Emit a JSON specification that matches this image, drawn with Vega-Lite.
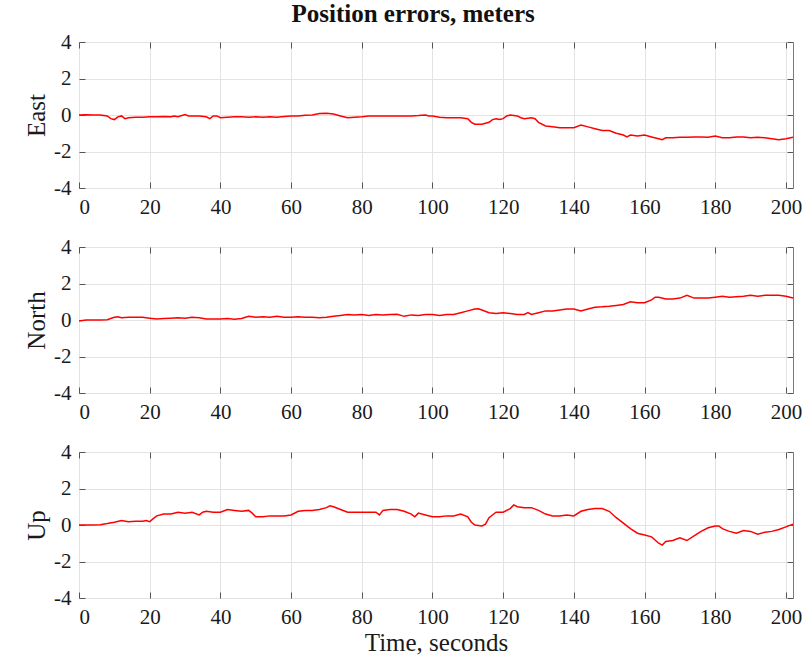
{
"$schema":"https://vega.github.io/schema/vega-lite/v6.json",
"background":"white",
"padding":{"left":24,"top":1,"right":5,"bottom":2},
"title":{"text":"Position errors, meters","font":"Liberation Serif","fontSize":25,"fontWeight":"bold","color":"#111","anchor":"middle","offset":4},
"datasets":{"d":[
{"s":"East","t":0,"v":0},{"s":"East","t":2,"v":0.02},{"s":"East","t":4,"v":0},{"s":"East","t":6,"v":0},{"s":"East","t":8,"v":-0.05},{"s":"East","t":9,"v":-0.2},{"s":"East","t":10,"v":-0.25},{"s":"East","t":11,"v":-0.1},{"s":"East","t":12,"v":-0.05},{"s":"East","t":13,"v":-0.2},{"s":"East","t":14,"v":-0.15},{"s":"East","t":16,"v":-0.12},{"s":"East","t":18,"v":-0.12},{"s":"East","t":20,"v":-0.1},{"s":"East","t":22,"v":-0.1},{"s":"East","t":24,"v":-0.08},{"s":"East","t":26,"v":-0.1},{"s":"East","t":27,"v":-0.05},{"s":"East","t":28,"v":-0.1},{"s":"East","t":30,"v":0.02},{"s":"East","t":31,"v":-0.05},{"s":"East","t":32,"v":-0.05},{"s":"East","t":34,"v":-0.05},{"s":"East","t":36,"v":-0.1},{"s":"East","t":37,"v":-0.2},{"s":"East","t":38,"v":-0.05},{"s":"East","t":39,"v":-0.05},{"s":"East","t":40,"v":-0.15},{"s":"East","t":42,"v":-0.12},{"s":"East","t":44,"v":-0.1},{"s":"East","t":46,"v":-0.1},{"s":"East","t":48,"v":-0.12},{"s":"East","t":50,"v":-0.1},{"s":"East","t":52,"v":-0.12},{"s":"East","t":54,"v":-0.1},{"s":"East","t":56,"v":-0.12},{"s":"East","t":58,"v":-0.08},{"s":"East","t":60,"v":-0.05},{"s":"East","t":62,"v":-0.05},{"s":"East","t":64,"v":-0.02},{"s":"East","t":66,"v":0},{"s":"East","t":68,"v":0.08},{"s":"East","t":70,"v":0.1},{"s":"East","t":72,"v":0.05},{"s":"East","t":74,"v":-0.05},{"s":"East","t":76,"v":-0.15},{"s":"East","t":78,"v":-0.12},{"s":"East","t":80,"v":-0.1},{"s":"East","t":82,"v":-0.05},{"s":"East","t":84,"v":-0.05},{"s":"East","t":86,"v":-0.05},{"s":"East","t":88,"v":-0.05},{"s":"East","t":90,"v":-0.05},{"s":"East","t":92,"v":-0.05},{"s":"East","t":94,"v":-0.05},{"s":"East","t":96,"v":-0.03},{"s":"East","t":98,"v":0},{"s":"East","t":99,"v":-0.05},{"s":"East","t":100,"v":-0.05},{"s":"East","t":102,"v":-0.12},{"s":"East","t":104,"v":-0.15},{"s":"East","t":106,"v":-0.15},{"s":"East","t":108,"v":-0.15},{"s":"East","t":110,"v":-0.2},{"s":"East","t":111,"v":-0.4},{"s":"East","t":112,"v":-0.5},{"s":"East","t":114,"v":-0.5},{"s":"East","t":116,"v":-0.4},{"s":"East","t":117,"v":-0.25},{"s":"East","t":118,"v":-0.2},{"s":"East","t":119,"v":-0.25},{"s":"East","t":120,"v":-0.2},{"s":"East","t":121,"v":-0.05},{"s":"East","t":122,"v":0},{"s":"East","t":124,"v":-0.05},{"s":"East","t":125,"v":-0.15},{"s":"East","t":126,"v":-0.2},{"s":"East","t":128,"v":-0.15},{"s":"East","t":129,"v":-0.2},{"s":"East","t":130,"v":-0.4},{"s":"East","t":132,"v":-0.6},{"s":"East","t":134,"v":-0.65},{"s":"East","t":136,"v":-0.7},{"s":"East","t":138,"v":-0.7},{"s":"East","t":140,"v":-0.7},{"s":"East","t":142,"v":-0.55},{"s":"East","t":144,"v":-0.65},{"s":"East","t":146,"v":-0.75},{"s":"East","t":148,"v":-0.85},{"s":"East","t":150,"v":-0.85},{"s":"East","t":152,"v":-1.0},{"s":"East","t":154,"v":-1.1},{"s":"East","t":155,"v":-1.2},{"s":"East","t":156,"v":-1.1},{"s":"East","t":158,"v":-1.15},{"s":"East","t":160,"v":-1.1},{"s":"East","t":162,"v":-1.2},{"s":"East","t":164,"v":-1.3},{"s":"East","t":165,"v":-1.35},{"s":"East","t":166,"v":-1.25},{"s":"East","t":168,"v":-1.25},{"s":"East","t":170,"v":-1.22},{"s":"East","t":172,"v":-1.22},{"s":"East","t":174,"v":-1.2},{"s":"East","t":176,"v":-1.2},{"s":"East","t":178,"v":-1.22},{"s":"East","t":180,"v":-1.15},{"s":"East","t":182,"v":-1.25},{"s":"East","t":184,"v":-1.25},{"s":"East","t":186,"v":-1.2},{"s":"East","t":188,"v":-1.2},{"s":"East","t":190,"v":-1.25},{"s":"East","t":192,"v":-1.22},{"s":"East","t":194,"v":-1.25},{"s":"East","t":196,"v":-1.3},{"s":"East","t":198,"v":-1.35},{"s":"East","t":200,"v":-1.3},{"s":"East","t":202,"v":-1.22},
{"s":"North","t":0,"v":-0.05},{"s":"North","t":2,"v":0},{"s":"North","t":4,"v":0},{"s":"North","t":6,"v":0},{"s":"North","t":8,"v":0.02},{"s":"North","t":10,"v":0.15},{"s":"North","t":11,"v":0.18},{"s":"North","t":12,"v":0.12},{"s":"North","t":14,"v":0.15},{"s":"North","t":16,"v":0.15},{"s":"North","t":18,"v":0.15},{"s":"North","t":20,"v":0.1},{"s":"North","t":22,"v":0.05},{"s":"North","t":24,"v":0.08},{"s":"North","t":26,"v":0.1},{"s":"North","t":28,"v":0.12},{"s":"North","t":30,"v":0.1},{"s":"North","t":32,"v":0.15},{"s":"North","t":34,"v":0.12},{"s":"North","t":36,"v":0.05},{"s":"North","t":38,"v":0.06},{"s":"North","t":40,"v":0.05},{"s":"North","t":42,"v":0.08},{"s":"North","t":44,"v":0.04},{"s":"North","t":46,"v":0.08},{"s":"North","t":48,"v":0.2},{"s":"North","t":50,"v":0.15},{"s":"North","t":52,"v":0.18},{"s":"North","t":54,"v":0.15},{"s":"North","t":56,"v":0.2},{"s":"North","t":58,"v":0.15},{"s":"North","t":60,"v":0.15},{"s":"North","t":62,"v":0.18},{"s":"North","t":64,"v":0.15},{"s":"North","t":66,"v":0.15},{"s":"North","t":68,"v":0.12},{"s":"North","t":70,"v":0.15},{"s":"North","t":72,"v":0.2},{"s":"North","t":74,"v":0.25},{"s":"North","t":76,"v":0.3},{"s":"North","t":78,"v":0.28},{"s":"North","t":80,"v":0.3},{"s":"North","t":82,"v":0.25},{"s":"North","t":84,"v":0.3},{"s":"North","t":86,"v":0.28},{"s":"North","t":88,"v":0.3},{"s":"North","t":90,"v":0.32},{"s":"North","t":92,"v":0.2},{"s":"North","t":94,"v":0.28},{"s":"North","t":96,"v":0.25},{"s":"North","t":98,"v":0.3},{"s":"North","t":100,"v":0.3},{"s":"North","t":102,"v":0.25},{"s":"North","t":104,"v":0.3},{"s":"North","t":106,"v":0.3},{"s":"North","t":108,"v":0.4},{"s":"North","t":110,"v":0.5},{"s":"North","t":112,"v":0.6},{"s":"North","t":113,"v":0.62},{"s":"North","t":114,"v":0.55},{"s":"North","t":116,"v":0.4},{"s":"North","t":118,"v":0.35},{"s":"North","t":120,"v":0.4},{"s":"North","t":122,"v":0.35},{"s":"North","t":124,"v":0.3},{"s":"North","t":126,"v":0.3},{"s":"North","t":127,"v":0.4},{"s":"North","t":128,"v":0.3},{"s":"North","t":130,"v":0.4},{"s":"North","t":132,"v":0.5},{"s":"North","t":134,"v":0.5},{"s":"North","t":136,"v":0.55},{"s":"North","t":138,"v":0.6},{"s":"North","t":140,"v":0.6},{"s":"North","t":142,"v":0.5},{"s":"North","t":144,"v":0.6},{"s":"North","t":146,"v":0.7},{"s":"North","t":148,"v":0.72},{"s":"North","t":150,"v":0.75},{"s":"North","t":152,"v":0.8},{"s":"North","t":154,"v":0.85},{"s":"North","t":156,"v":1.0},{"s":"North","t":158,"v":0.95},{"s":"North","t":160,"v":0.95},{"s":"North","t":162,"v":1.1},{"s":"North","t":163,"v":1.25},{"s":"North","t":164,"v":1.25},{"s":"North","t":166,"v":1.15},{"s":"North","t":168,"v":1.15},{"s":"North","t":170,"v":1.2},{"s":"North","t":172,"v":1.35},{"s":"North","t":174,"v":1.2},{"s":"North","t":176,"v":1.2},{"s":"North","t":178,"v":1.2},{"s":"North","t":180,"v":1.25},{"s":"North","t":182,"v":1.3},{"s":"North","t":184,"v":1.25},{"s":"North","t":186,"v":1.28},{"s":"North","t":188,"v":1.3},{"s":"North","t":190,"v":1.35},{"s":"North","t":192,"v":1.3},{"s":"North","t":194,"v":1.35},{"s":"North","t":196,"v":1.35},{"s":"North","t":198,"v":1.35},{"s":"North","t":200,"v":1.3},{"s":"North","t":202,"v":1.2},
{"s":"Up","t":0,"v":0},{"s":"Up","t":2,"v":0},{"s":"Up","t":4,"v":0},{"s":"Up","t":6,"v":0.02},{"s":"Up","t":8,"v":0.08},{"s":"Up","t":10,"v":0.15},{"s":"Up","t":12,"v":0.25},{"s":"Up","t":14,"v":0.18},{"s":"Up","t":16,"v":0.2},{"s":"Up","t":18,"v":0.2},{"s":"Up","t":19,"v":0.25},{"s":"Up","t":20,"v":0.18},{"s":"Up","t":21,"v":0.35},{"s":"Up","t":22,"v":0.5},{"s":"Up","t":24,"v":0.6},{"s":"Up","t":26,"v":0.6},{"s":"Up","t":28,"v":0.7},{"s":"Up","t":30,"v":0.65},{"s":"Up","t":32,"v":0.7},{"s":"Up","t":34,"v":0.55},{"s":"Up","t":35,"v":0.7},{"s":"Up","t":36,"v":0.75},{"s":"Up","t":38,"v":0.7},{"s":"Up","t":40,"v":0.7},{"s":"Up","t":42,"v":0.85},{"s":"Up","t":44,"v":0.8},{"s":"Up","t":46,"v":0.75},{"s":"Up","t":48,"v":0.8},{"s":"Up","t":49,"v":0.65},{"s":"Up","t":50,"v":0.45},{"s":"Up","t":52,"v":0.45},{"s":"Up","t":54,"v":0.5},{"s":"Up","t":56,"v":0.5},{"s":"Up","t":58,"v":0.5},{"s":"Up","t":60,"v":0.55},{"s":"Up","t":62,"v":0.75},{"s":"Up","t":64,"v":0.8},{"s":"Up","t":66,"v":0.8},{"s":"Up","t":68,"v":0.85},{"s":"Up","t":70,"v":0.95},{"s":"Up","t":71,"v":1.05},{"s":"Up","t":72,"v":1.0},{"s":"Up","t":74,"v":0.85},{"s":"Up","t":76,"v":0.7},{"s":"Up","t":78,"v":0.7},{"s":"Up","t":80,"v":0.7},{"s":"Up","t":82,"v":0.7},{"s":"Up","t":84,"v":0.7},{"s":"Up","t":85,"v":0.55},{"s":"Up","t":86,"v":0.8},{"s":"Up","t":88,"v":0.85},{"s":"Up","t":90,"v":0.85},{"s":"Up","t":92,"v":0.75},{"s":"Up","t":94,"v":0.6},{"s":"Up","t":95,"v":0.45},{"s":"Up","t":96,"v":0.65},{"s":"Up","t":98,"v":0.55},{"s":"Up","t":100,"v":0.45},{"s":"Up","t":102,"v":0.45},{"s":"Up","t":104,"v":0.5},{"s":"Up","t":106,"v":0.5},{"s":"Up","t":108,"v":0.6},{"s":"Up","t":110,"v":0.45},{"s":"Up","t":111,"v":0.15},{"s":"Up","t":112,"v":0},{"s":"Up","t":114,"v":-0.05},{"s":"Up","t":115,"v":0.05},{"s":"Up","t":116,"v":0.4},{"s":"Up","t":118,"v":0.7},{"s":"Up","t":120,"v":0.7},{"s":"Up","t":122,"v":0.9},{"s":"Up","t":123,"v":1.1},{"s":"Up","t":124,"v":1.0},{"s":"Up","t":126,"v":0.95},{"s":"Up","t":128,"v":0.95},{"s":"Up","t":130,"v":0.8},{"s":"Up","t":132,"v":0.6},{"s":"Up","t":134,"v":0.5},{"s":"Up","t":136,"v":0.5},{"s":"Up","t":138,"v":0.55},{"s":"Up","t":140,"v":0.5},{"s":"Up","t":142,"v":0.75},{"s":"Up","t":144,"v":0.85},{"s":"Up","t":146,"v":0.9},{"s":"Up","t":148,"v":0.9},{"s":"Up","t":150,"v":0.75},{"s":"Up","t":152,"v":0.4},{"s":"Up","t":154,"v":0.1},{"s":"Up","t":156,"v":-0.2},{"s":"Up","t":158,"v":-0.45},{"s":"Up","t":160,"v":-0.55},{"s":"Up","t":162,"v":-0.65},{"s":"Up","t":164,"v":-1.0},{"s":"Up","t":165,"v":-1.1},{"s":"Up","t":166,"v":-0.9},{"s":"Up","t":168,"v":-0.85},{"s":"Up","t":170,"v":-0.7},{"s":"Up","t":172,"v":-0.85},{"s":"Up","t":174,"v":-0.6},{"s":"Up","t":176,"v":-0.35},{"s":"Up","t":178,"v":-0.15},{"s":"Up","t":180,"v":-0.05},{"s":"Up","t":181,"v":-0.05},{"s":"Up","t":182,"v":-0.2},{"s":"Up","t":184,"v":-0.35},{"s":"Up","t":186,"v":-0.45},{"s":"Up","t":188,"v":-0.3},{"s":"Up","t":190,"v":-0.35},{"s":"Up","t":192,"v":-0.5},{"s":"Up","t":194,"v":-0.4},{"s":"Up","t":196,"v":-0.35},{"s":"Up","t":198,"v":-0.25},{"s":"Up","t":200,"v":-0.1},{"s":"Up","t":202,"v":0.05}
]},
"data":{"name":"d"},
"spacing":59,
"bounds":"flush",
"vconcat":[
{"width":714,"height":146,"transform":[{"filter":"datum.s==='East'"}],
 "layer":[
  {"mark":{"type":"line","color":"#ff0000","strokeWidth":1.5},
   "encoding":{"x":{"field":"t","type":"quantitative","scale":{"domain":[0,202],"nice":false},"axis":{"title":null,"values":[0,20,40,60,80,100,120,140,160,180,200]}},
   "y":{"field":"v","type":"quantitative","scale":{"domain":[-4,4],"nice":false},"axis":{"title":"East","values":[-4,-2,0,2,4]}}}},
  {"mark":{"type":"line","opacity":0},
   "encoding":{"x":{"field":"t","type":"quantitative","axis":{"orient":"top","labels":false,"grid":false,"title":null,"values":[0,20,40,60,80,100,120,140,160,180,200]}},
   "y":{"field":"v","type":"quantitative","axis":{"orient":"right","labels":false,"grid":false,"title":null,"values":[-4,-2,0,2,4]}}}}
 ],
 "resolve":{"axis":{"x":"independent","y":"independent"}}},
{"width":714,"height":146,"transform":[{"filter":"datum.s==='North'"}],
 "layer":[
  {"mark":{"type":"line","color":"#ff0000","strokeWidth":1.5},
   "encoding":{"x":{"field":"t","type":"quantitative","scale":{"domain":[0,202],"nice":false},"axis":{"title":null,"values":[0,20,40,60,80,100,120,140,160,180,200]}},
   "y":{"field":"v","type":"quantitative","scale":{"domain":[-4,4],"nice":false},"axis":{"title":"North","values":[-4,-2,0,2,4]}}}},
  {"mark":{"type":"line","opacity":0},
   "encoding":{"x":{"field":"t","type":"quantitative","axis":{"orient":"top","labels":false,"grid":false,"title":null,"values":[0,20,40,60,80,100,120,140,160,180,200]}},
   "y":{"field":"v","type":"quantitative","axis":{"orient":"right","labels":false,"grid":false,"title":null,"values":[-4,-2,0,2,4]}}}}
 ],
 "resolve":{"axis":{"x":"independent","y":"independent"}}},
{"width":714,"height":146,"transform":[{"filter":"datum.s==='Up'"}],
 "layer":[
  {"mark":{"type":"line","color":"#ff0000","strokeWidth":1.5},
   "encoding":{"x":{"field":"t","type":"quantitative","scale":{"domain":[0,202],"nice":false},"axis":{"title":"Time, seconds","values":[0,20,40,60,80,100,120,140,160,180,200]}},
   "y":{"field":"v","type":"quantitative","scale":{"domain":[-4,4],"nice":false},"axis":{"title":"Up","values":[-4,-2,0,2,4]}}}},
  {"mark":{"type":"line","opacity":0},
   "encoding":{"x":{"field":"t","type":"quantitative","axis":{"orient":"top","labels":false,"grid":false,"title":null,"values":[0,20,40,60,80,100,120,140,160,180,200]}},
   "y":{"field":"v","type":"quantitative","axis":{"orient":"right","labels":false,"grid":false,"title":null,"values":[-4,-2,0,2,4]}}}}
 ],
 "resolve":{"axis":{"x":"independent","y":"independent"}}}
],
"config":{
 "view":{"stroke":"#7a7a7a","strokeWidth":1},
 "axis":{"domain":false,"tickSize":-6,"tickColor":"#555","tickWidth":1,"gridColor":"#e3e3e3","gridWidth":1,
  "labelFont":"Liberation Serif","labelFontSize":21,"labelColor":"#1a1a1a","labelExpr":"'' + datum.value",
  "titleFont":"Liberation Serif","titleFontSize":25,"titleFontWeight":"normal","titleColor":"#1a1a1a"},
 "axisY":{"titlePadding":4,"labelPadding":14},
 "axisX":{"titlePadding":3,"labelPadding":14}
}
}
